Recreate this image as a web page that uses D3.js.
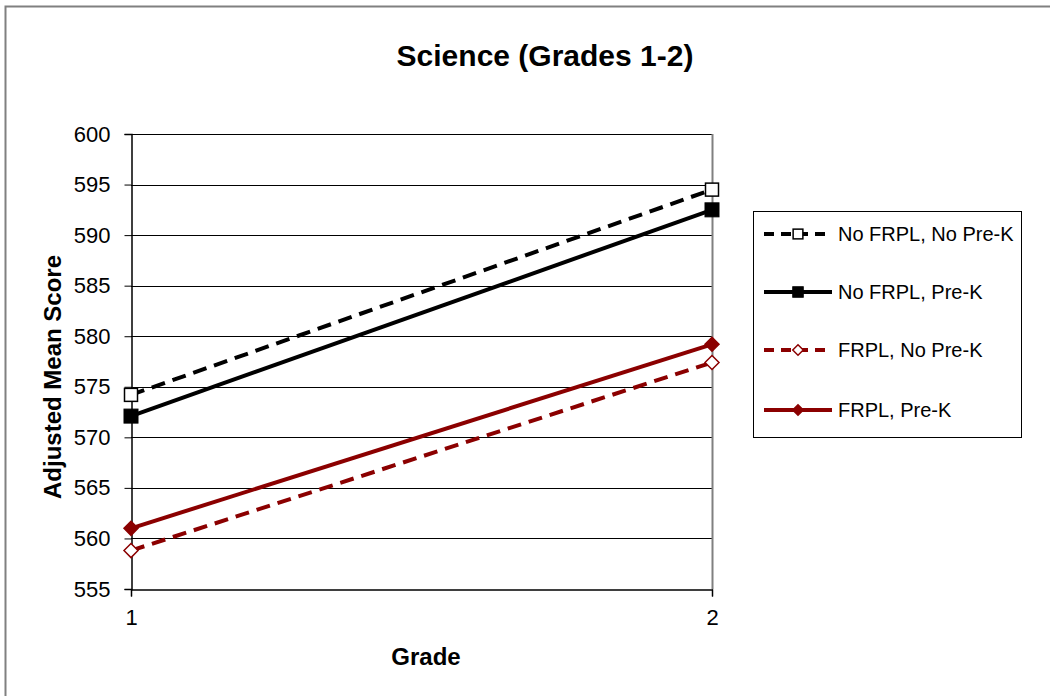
<!DOCTYPE html>
<html>
<head>
<meta charset="utf-8">
<script src="https://cdn.jsdelivr.net/npm/d3@7"></script>
<style>
  body { margin: 0; background: #fff; }
  text { font-family: "Liberation Sans", Arial, sans-serif; }
</style>
</head>
<body>
<div id="chart"></div>
<script>
// Science (Grades 1-2) - adjusted mean scores by group

const grades = [1, 2];
const seriesNames = ['No FRPL, No Pre-K', 'No FRPL, Pre-K', 'FRPL, No Pre-K', 'FRPL, Pre-K'];
const noFrplNoPreK = [574.2, 594.5];
const noFrplPreK = [572.1, 592.5];
const frplNoPreK = [558.8, 577.4];
const frplPreK = [561.0, 579.2];
const yTicks = [555, 560, 565, 570, 575, 580, 585, 590, 595, 600];

const W = 1050, H = 696;
const margin = { top: 134, left: 131, right: 338, bottom: 107 };
const plotW = W - margin.left - margin.right;
const plotH = H - margin.top - margin.bottom;

const series = [
    { name: seriesNames[0], values: noFrplNoPreK, color: '#000000', dash: '14,8', marker: 'squareOpen' },
    { name: seriesNames[1], values: noFrplPreK, color: '#000000', dash: null, marker: 'square' },
    { name: seriesNames[2], values: frplNoPreK, color: '#8b0000', dash: '14,8', marker: 'diamondOpen' },
    { name: seriesNames[3], values: frplPreK, color: '#8b0000', dash: null, marker: 'diamond' }
];

const svg = d3.select('#chart').append('svg')
    .attr('width', W)
    .attr('height', H);

// outer chart border (only top/left visible)
svg.append('rect')
    .attr('x', 5.5).attr('y', 6.5)
    .attr('width', W + 10).attr('height', H + 10)
    .attr('fill', '#fff')
    .attr('stroke', '#808080')
    .attr('stroke-width', 2);

const g = svg.append('g')
    .attr('transform', `translate(${margin.left}, ${margin.top})`);

const x = d3.scaleLinear().domain([1, 2]).range([0, plotW]);
const y = d3.scaleLinear().domain([555, 600]).range([plotH, 0]);

// gridlines
g.selectAll('.grid')
    .data(yTicks.slice(1))
    .enter()
    .append('line')
    .attr('x1', 0).attr('x2', plotW)
    .attr('y1', d => Math.round(y(d)) + 0.5)
    .attr('y2', d => Math.round(y(d)) + 0.5)
    .attr('stroke', '#000')
    .attr('stroke-width', 1);

// right plot border
g.append('line')
    .attr('x1', plotW + 0.5).attr('x2', plotW + 0.5)
    .attr('y1', 0).attr('y2', plotH)
    .attr('stroke', '#808080')
    .attr('stroke-width', 2);

// y axis
const yAxis = d3.axisLeft(y).tickValues(yTicks).tickSize(7).tickPadding(14);
const yG = g.append('g').attr('transform', 'translate(0.5,0)').call(yAxis);
yG.select('.domain').attr('stroke', '#000').attr('stroke-width', 1.5);
yG.selectAll('.tick line').attr('stroke', '#000');
yG.selectAll('text').style('font-size', '22px').attr('fill', '#000');

// x axis
const xAxis = d3.axisBottom(x).tickValues(grades).tickFormat(d3.format('d')).tickSize(7).tickPadding(13);
const xG = g.append('g').attr('transform', `translate(0, ${plotH + 0.5})`).call(xAxis);
xG.select('.domain').attr('stroke', '#000').attr('stroke-width', 1.5);
xG.selectAll('.tick line').attr('stroke', '#000');
xG.selectAll('text').style('font-size', '22px').attr('fill', '#000');

// lines
const line = d3.line()
    .x((d, i) => x(grades[i]))
    .y(d => y(d));

series.forEach(s => {
    g.append('path')
        .datum(s.values)
        .attr('d', line)
        .attr('fill', 'none')
        .attr('stroke', s.color)
        .attr('stroke-width', 4)
        .attr('stroke-dasharray', s.dash);
});

function drawMarker(sel, type, color, cx, cy, scale) {
    const k = scale || 1;
    if (type === 'square' || type === 'squareOpen') {
        const s = (type === 'square' ? 14 : 13) * k;
        sel.append('rect')
            .attr('x', cx - s / 2).attr('y', cy - s / 2)
            .attr('width', s).attr('height', s)
            .attr('fill', type === 'square' ? color : '#fff')
            .attr('stroke', color)
            .attr('stroke-width', type === 'square' ? 1 : 1.5);
    } else {
        const r = 7 * k;
        sel.append('path')
            .attr('d', `M${cx},${cy - r}L${cx + r},${cy}L${cx},${cy + r}L${cx - r},${cy}Z`)
            .attr('fill', type === 'diamond' ? color : '#fff')
            .attr('stroke', color)
            .attr('stroke-width', 1.5);
    }
}

series.forEach(s => {
    s.values.forEach((v, i) => {
        drawMarker(g, s.marker, s.color, x(grades[i]), y(v));
    });
});

// title
svg.append('text')
    .attr('x', 545).attr('y', 66)
    .attr('text-anchor', 'middle')
    .style('font-size', '30px')
    .style('font-weight', 'bold')
    .text('Science (Grades 1-2)');

// axis titles
svg.append('text')
    .attr('x', 426).attr('y', 665)
    .attr('text-anchor', 'middle')
    .style('font-size', '24px')
    .style('font-weight', 'bold')
    .text('Grade');

svg.append('text')
    .attr('transform', 'translate(61, 377) rotate(-90)')
    .attr('text-anchor', 'middle')
    .style('font-size', '24px')
    .style('font-weight', 'bold')
    .text('Adjusted Mean Score');

// legend
const legend = svg.append('g');
legend.append('rect')
    .attr('x', 753.5).attr('y', 211.5)
    .attr('width', 268).attr('height', 226)
    .attr('fill', '#fff')
    .attr('stroke', '#000')
    .attr('stroke-width', 1);

const legendY = [234, 292, 350, 410];
series.forEach((s, i) => {
    const ly = legendY[i];
    legend.append('line')
        .attr('x1', 764).attr('x2', 832)
        .attr('y1', ly).attr('y2', ly)
        .attr('stroke', s.color)
        .attr('stroke-width', 4)
        .attr('stroke-dasharray', s.dash ? '10,7' : null);
    drawMarker(legend, s.marker, s.color, 798, ly, 0.75);
    legend.append('text')
        .attr('x', 838).attr('y', ly + 7)
        .style('font-size', '20px')
        .text(s.name);
});
</script>
</body>
</html>
